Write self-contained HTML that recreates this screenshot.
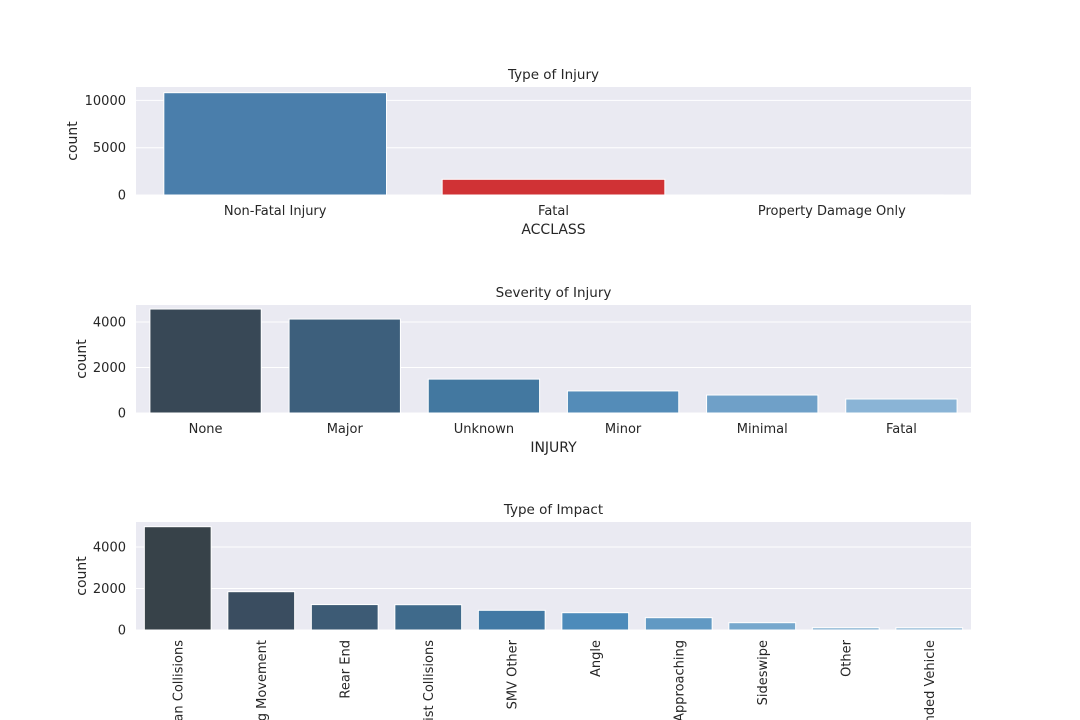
<!DOCTYPE html>
<html><head><meta charset="utf-8"><style>
html,body{margin:0;padding:0;background:#fff;width:1080px;height:720px;overflow:hidden}
svg{display:block;font-family:"DejaVu Sans","Liberation Sans",sans-serif;overflow:hidden}
</style></head><body>
<svg id="chart" width="1080" height="720">
<defs><clipPath id="frameClip"><rect x="0" y="0" width="1080" height="720"/></clipPath></defs>
</svg>
<script>
const injuryCats = ["Non-Fatal Injury","Fatal","Property Damage Only"];
const injuryVals = [10814,1660,5];
const injuryTicks = [0,5000,10000];
const sevCats = ["None","Major","Unknown","Minor","Minimal","Fatal"];
const sevVals = [4570,4130,1490,970,790,615];
const sevTicks = [0,2000,4000];
const impactCats = ["Pedestrian Collisions","Turning Movement","Rear End","Cyclist Collisions","SMV Other","Angle","Approaching","Sideswipe","Other","SMV Unattended Vehicle"];
const impactVals = [4978,1846,1225,1219,949,834,593,352,111,110];
const impactTicks = [0,2000,4000];

const NS="http://www.w3.org/2000/svg";
const svg=document.getElementById('chart');
function mk(tag,attrs,parent){const e=document.createElementNS(NS,tag);for(const k in attrs)e.setAttribute(k,attrs[k]);(parent||svg).appendChild(e);return e;}

function panel(cfg){
  const g=mk('g',{'clip-path':'url(#frameClip)'});
  
  
  const L=136,R=971,T=cfg.top,B=cfg.bottom;
  const bg=mk('rect',{x:L,y:T,width:R-L,height:B-T,fill:'#eaeaf2'},g);
  
  
  const y=v=>B-(v/cfg.unit)*cfg.unitPx;
  cfg.ticks.forEach(t=>{
    const ln=mk('line',{x1:L,x2:R,y1:y(t),y2:y(t),stroke:'#fff','stroke-width':1},g);
    
    
    const tx=mk('text',{x:L-10,y:y(t)+4.5,'text-anchor':'end','font-size':13,fill:'#262626'},g);
    tx.textContent=t;
    
    
  });
  const n=cfg.cats.length,step=(R-L)/n,bw=step*0.8;
  cfg.cats.forEach((c,i)=>{
    const x0=L+step*i+step*0.1;
    const yt=y(cfg.vals[i]);
    const r=mk('rect',{x:x0,y:yt,width:bw,height:B-yt,fill:cfg.colors[i],stroke:'#fff','stroke-width':1},g);
    
    
    const cx=L+step*(i+0.5);
    let tx;
    if(cfg.rotate){
      tx=mk('text',{x:0,y:0,transform:`translate(${cx+4.5},${B+10}) rotate(-90)`,'text-anchor':'end','font-size':13,fill:'#262626'},g);
    } else {
      tx=mk('text',{x:cx,y:B+20,'text-anchor':'middle','font-size':13,fill:'#262626'},g);
    }
    tx.textContent=c;
    
    
  });
  const title=mk('text',{x:(L+R)/2,y:T-8,'text-anchor':'middle','font-size':13.5,fill:'#262626'},g);
  title.textContent=cfg.title;
  
  
  const yl=mk('text',{x:0,y:0,transform:`translate(${cfg.ylx},${(T+B)/2}) rotate(-90)`,'text-anchor':'middle','font-size':14,fill:'#262626'},g);
  yl.textContent='count';
  
  
  if(cfg.xlabel){
    const xl=mk('text',{x:(L+R)/2,y:B+39,'text-anchor':'middle','font-size':14,fill:'#262626'},g);
    xl.textContent=cfg.xlabel;
    
    
  }
}
panel({name:'type-of-injury-chart',title:'Type of Injury',top:87,bottom:195,unit:5000,unitPx:47.3,ticks:injuryTicks,cats:injuryCats,vals:injuryVals,colors:['#4a7eab','#d03235','#8aa7c4'],xlabel:'ACCLASS',ylx:77});
panel({name:'severity-of-injury-chart',title:'Severity of Injury',top:305,bottom:413,unit:2000,unitPx:45.5,ticks:sevTicks,cats:sevCats,vals:sevVals,colors:['#384856','#3d5f7c','#4378a0','#548cb8','#6fa0c8','#8ab4d6'],xlabel:'INJURY',ylx:86});
panel({name:'type-of-impact-chart',title:'Type of Impact',top:522,bottom:630,unit:2000,unitPx:41.5,ticks:impactTicks,cats:impactCats,vals:impactVals,colors:['#374249','#3a4d60','#3d5b75','#3f6a8b','#4279a4','#4d8bba','#6199c3','#77a8cd','#8cb5d4','#99bed9'],rotate:true,ylx:86});
</script>
</body></html>
